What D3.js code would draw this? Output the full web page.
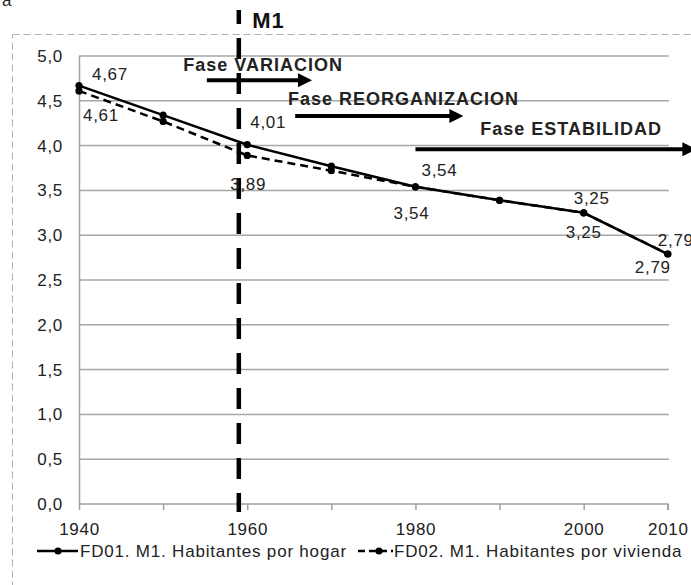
<!DOCTYPE html>
<html lang="es">
<head>
<meta charset="UTF-8">
<title>Habitantes por hogar y por vivienda</title>
<script src="https://d3js.org/d3.v7.min.js"></script>
<style>
  body { margin: 0; background: #fff; }
  svg { display: block; font-family: "Liberation Sans", Arial, sans-serif; }
  .tick-label { font-size: 17px; fill: #222; letter-spacing: 0.7px; }
  .data-label { font-size: 17px; fill: #222; letter-spacing: 0.7px; }
  .fase { font-size: 18px; font-weight: bold; fill: #222; letter-spacing: 1px; }
  .legend { font-size: 17px; fill: #222; letter-spacing: 0.8px; }
</style>
</head>
<body>
<svg width="691" height="585"></svg>
<script>
// data
const years = [1940, 1950, 1960, 1970, 1980, 1990, 2000, 2010];
const hogar = [4.67, 4.34, 4.01, 3.77, 3.54, 3.39, 3.25, 2.79];
const vivienda = [4.61, 4.27, 3.89, 3.72, 3.54, 3.39, 3.25, 2.79];
const yTicks = [0, 0.5, 1, 1.5, 2, 2.5, 3, 3.5, 4, 4.5, 5];
const xTickLabels = [1940, 1960, 1980, 2000, 2010];
const seriesNames = ["FD01. M1. Habitantes por hogar", "FD02. M1. Habitantes por vivienda"];
const markYear = 1959;
const markName = "M1";
const fases = ["Fase VARIACION", "Fase REORGANIZACION", "Fase ESTABILIDAD"];

const svg = d3.select("svg");
const fmt = d3.format(".2f");
const comma = v => fmt(v).replace(".", ",");
const comma1 = v => d3.format(".1f")(v).replace(".", ",");

const x = d3.scaleLinear().domain([1940, 2010]).range([79, 667.8]);
const y = d3.scaleLinear().domain([0, 5]).range([504, 56]);

// outer chart border (dashed)
svg.append("rect")
    .attr("x", 12.5).attr("y", 34.5)
    .attr("width", 700).attr("height", 600)
    .attr("fill", "none")
    .attr("stroke", "#b0b0b0")
    .attr("stroke-dasharray", "7,4");

svg.append("text")
    .attr("x", 2).attr("y", 6)
    .attr("class", "tick-label")
    .text("a");

// gridlines
svg.append("g").selectAll("line")
    .data(yTicks.filter(d => d > 0))
    .join("line")
    .attr("x1", x(1940)).attr("x2", x(2010) + 1)
    .attr("y1", d => y(d)).attr("y2", d => y(d))
    .attr("stroke", "#a6a6a6")
    .attr("stroke-width", 1.5);

// y axis
const yAxis = svg.append("g")
    .attr("transform", `translate(${x(1940)},0)`)
    .call(d3.axisLeft(y).tickValues(yTicks).tickSize(0).tickPadding(16).tickFormat(comma1));
yAxis.select(".domain").attr("stroke", "#a0a0a0").attr("stroke-width", 1.5);
yAxis.selectAll("text").attr("class", "tick-label").attr("font-family", null).attr("font-size", null);

// x axis
const xAxis = svg.append("g")
    .attr("transform", `translate(0,${y(0)})`)
    .call(d3.axisBottom(x).tickValues(years).tickSize(6).tickPadding(6)
        .tickFormat(d => xTickLabels.includes(d) ? d : ""));
xAxis.select(".domain").attr("stroke", "#a0a0a0").attr("stroke-width", 1.5).attr("d", `M${x(1940)},0H${x(2010)}V6`);
xAxis.selectAll(".tick line").attr("stroke", "#a0a0a0").attr("stroke-width", 1.5);
xAxis.selectAll("text").attr("class", "tick-label").attr("font-family", null).attr("font-size", null).attr("dy", "1.1em");

// M1 vertical dashed marker
svg.append("line")
    .attr("x1", x(markYear)).attr("x2", x(markYear))
    .attr("y1", 10).attr("y2", 512)
    .attr("stroke", "#000")
    .attr("stroke-width", 4.5)
    .attr("stroke-dasharray", "21,14")
    .attr("stroke-dashoffset", 7);

svg.append("text")
    .attr("x", x(1960.6)).attr("y", y(5.40))
    .attr("dy", "0.36em")
    .attr("font-size", 22).attr("font-weight", "bold").attr("fill", "#111")
    .attr("letter-spacing", "1px")
    .text(markName);

// phase annotations (in data units)
const faseLayout = [
    { tx: 1952.4, ty: 4.90, x0: 1955.2, x1: 1967.7, ay: 4.73 },
    { tx: 1964.85, ty: 4.53, x0: 1965.7, x1: 1985.7, ay: 4.33 },
    { tx: 1987.7, ty: 4.19, x0: 1980.0, x1: 2013.4, ay: 3.96 }
];
fases.forEach((name, i) => {
    const f = faseLayout[i];
    const g = svg.append("g");
    const ax0 = x(f.x0), ax1 = x(f.x1), ay = y(f.ay);
    g.append("line")
        .attr("x1", ax0).attr("x2", ax1 - 12)
        .attr("y1", ay).attr("y2", ay)
        .attr("stroke", "#000").attr("stroke-width", 4);
    g.append("path")
        .attr("d", `M${ax1},${ay}L${ax1 - 14},${ay - 7}L${ax1 - 14},${ay + 7}Z`)
        .attr("fill", "#000");
    g.append("text")
        .attr("class", "fase")
        .attr("x", x(f.tx)).attr("y", y(f.ty))
        .attr("dy", "0.36em")
        .text(name);
});

// series lines
const line = d3.line().x((d, i) => x(years[i])).y(d => y(d));

svg.append("path")
    .datum(vivienda)
    .attr("d", line)
    .attr("fill", "none")
    .attr("stroke", "#000")
    .attr("stroke-width", 2.5)
    .attr("stroke-dasharray", "8,5");

svg.append("path")
    .datum(hogar)
    .attr("d", line)
    .attr("fill", "none")
    .attr("stroke", "#000")
    .attr("stroke-width", 2.5);

[vivienda, hogar].forEach(s => {
    svg.append("g").selectAll("circle")
        .data(s)
        .join("circle")
        .attr("cx", (d, i) => x(years[i]))
        .attr("cy", d => y(d))
        .attr("r", 3.6)
        .attr("fill", "#000");
});

// data labels: index into series, pixel offset from point
const hogarLabels = [[0, 31, -12], [2, 21, -23], [4, 24, -17], [6, 8, -15], [7, 8, -14]];
const viviendaLabels = [[0, 22, 24], [2, 1, 28], [4, -4, 26], [6, 0, 19], [7, -15, 13]];
[[hogar, hogarLabels], [vivienda, viviendaLabels]].forEach(([s, labs]) => {
    svg.append("g").selectAll("text")
        .data(labs)
        .join("text")
        .attr("class", "data-label")
        .attr("text-anchor", "middle")
        .attr("x", d => x(years[d[0]]) + d[1])
        .attr("y", d => y(s[d[0]]) + d[2])
        .attr("dy", "0.36em")
        .text(d => comma(s[d[0]]));
});

// legend
const legend = svg.append("g").attr("transform", "translate(0,551)");
legend.append("line").attr("x1", 37).attr("x2", 78).attr("y1", 0).attr("y2", 0)
    .attr("stroke", "#000").attr("stroke-width", 2.5);
legend.append("circle").attr("cx", 58).attr("cy", 0).attr("r", 3.6).attr("fill", "#000");
legend.append("text").attr("class", "legend").attr("x", 80).attr("dy", "0.36em").text(seriesNames[0]);

legend.append("line").attr("x1", 358).attr("x2", 393).attr("y1", 0).attr("y2", 0)
    .attr("stroke", "#000").attr("stroke-width", 2.5).attr("stroke-dasharray", "7,4");
legend.append("circle").attr("cx", 379).attr("cy", 0).attr("r", 3.6).attr("fill", "#000");
legend.append("text").attr("class", "legend").attr("x", 394).attr("dy", "0.36em").text(seriesNames[1]);
</script>
</body>
</html>
